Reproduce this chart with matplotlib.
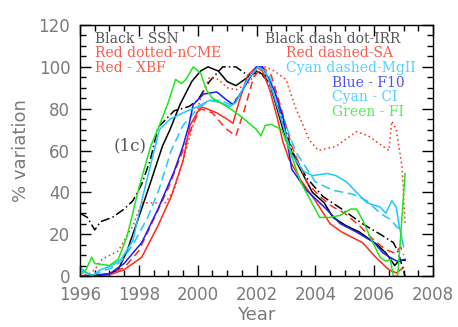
import matplotlib
matplotlib.use("Agg")
import matplotlib.pyplot as plt
from matplotlib.ticker import MultipleLocator

# data (year, % variation)
ssn_x = [1996.0, 1996.5, 1997.0, 1997.3, 1997.6, 1997.97, 1998.38, 1998.8, 1999.06, 1999.4, 1999.8, 2000.1, 2000.35, 2000.7, 2001.0, 2001.3, 2001.6, 2002.0, 2002.4, 2002.7, 2003.0, 2003.34, 2003.9, 2004.3, 2004.6, 2005.05, 2005.5, 2006.1, 2006.4, 2006.7, 2006.85, 2007.05]
ssn_y = [0, 0.5, 1, 3, 12, 27, 44, 62, 70, 82, 93, 98, 100, 98, 93, 91, 94, 98, 95, 80, 65, 55, 40, 35, 28, 24, 21, 15, 11, 5, 7.5, 7.5]

irr_x = [1996.0, 1996.25, 1996.5, 1996.7, 1997.1, 1997.5, 1997.8, 1998.1, 1998.4, 1998.65, 1999.2, 1999.7, 2000.0, 2000.4, 2000.85, 2001.3, 2001.7, 2002.1, 2002.4, 2002.8, 2003.2, 2003.7, 2004.26, 2004.9, 2005.6, 2006.2, 2006.65, 2006.8, 2007.05]
irr_y = [30, 28, 22, 26, 28, 32, 36, 44, 56, 71, 79, 81, 84, 93, 100, 100, 96, 97.5, 93, 78, 60, 47, 38, 32, 25, 20, 16, 12, 0]

ncme_x = [1996.0, 1996.3, 1996.5, 1996.75, 1997.3, 1997.8, 1998.1, 1998.5, 1998.9, 1999.2, 1999.5, 1999.8, 2000.1, 2000.4, 2000.7, 2001.0, 2001.3, 2001.7, 2002.0, 2002.3, 2002.6, 2003.0, 2003.34, 2003.8, 2004.1, 2004.7, 2005.4, 2005.8, 2006.5, 2006.6, 2006.75, 2006.95, 2007.05]
ncme_y = [0, 1, 3, 8, 12, 24, 35, 35, 35, 41, 55, 70, 85, 95, 94, 90, 89, 92, 97, 100, 98, 94, 80, 65, 60, 62, 69, 67, 60, 74, 70, 52, 25]

xbf_x = [1996.0, 1996.5, 1997.0, 1997.5, 1998.1, 1998.65, 1999.1, 1999.5, 1999.74, 2000.1, 2000.3, 2000.65, 2001.0, 2001.2, 2001.4, 2001.7, 2002.0, 2002.2, 2002.45, 2002.7, 2002.9, 2003.1, 2003.5, 2004.0, 2004.5, 2004.9, 2005.6, 2006.05, 2006.5, 2006.75, 2007.0]
xbf_y = [0, 0, 0.5, 3, 9, 24, 38, 55, 72, 81, 80, 78, 75, 73, 83, 96, 100, 98, 89, 76, 64, 56, 46, 36, 25, 21, 16, 9, 3, 1.5, 4]

sa_x = [1996.0, 1996.5, 1997.0, 1997.5, 1998.0, 1998.6, 1999.0, 1999.5, 1999.85, 2000.1, 2000.5, 2000.8, 2001.0, 2001.3, 2001.6, 2001.9, 2002.2, 2002.5, 2002.8, 2003.2, 2003.7, 2004.15, 2004.6, 2005.0, 2005.5, 2006.0, 2006.4, 2006.7, 2006.9, 2007.0]
sa_y = [0, 0, 1, 4, 12, 30, 42, 60, 73, 80, 78, 73, 70, 67, 80, 95, 100, 96, 82, 62, 45, 38, 33, 30, 24, 17, 12.5, 11, 14, 10]

mgii_x = [1996.0, 1996.4, 1996.7, 1997.1, 1997.4, 1997.8, 1998.3, 1998.7, 1999.1, 1999.5, 2000.0, 2000.4, 2000.75, 2001.1, 2001.4, 2001.8, 2002.1, 2002.4, 2002.7, 2003.0, 2003.35, 2004.0, 2004.6, 2005.3, 2005.75, 2006.2, 2006.55, 2006.8, 2007.0]
mgii_y = [3, 0, 2, 4, 7, 15, 28, 42, 60, 72, 80, 84, 84, 82, 86, 96, 100, 97, 85, 72, 59, 45, 41, 39, 36, 30, 27, 23, 23]

f10_x = [1996.0, 1996.5, 1997.0, 1997.5, 1998.1, 1998.65, 1999.2, 1999.5, 1999.7, 1999.85, 2000.2, 2000.65, 2001.0, 2001.2, 2001.4, 2001.7, 2002.0, 2002.2, 2002.6, 2002.9, 2003.2, 2003.7, 2004.3, 2004.85, 2005.4, 2006.0, 2006.3, 2006.65, 2006.8, 2007.05]
f10_y = [0, 0, 1, 6, 16, 32, 50, 62, 72, 82, 87, 88, 84, 82, 86, 93, 100, 100, 89, 76, 51, 41, 33, 25, 21, 16, 11, 8, 7, 8]

ci_x = [1996.0, 1996.4, 1996.7, 1997.1, 1997.4, 1997.8, 1998.1, 1998.38, 1998.7, 1999.06, 1999.5, 2000.0, 2000.4, 2000.75, 2001.1, 2001.3, 2001.7, 2002.05, 2002.3, 2002.6, 2002.9, 2003.2, 2003.6, 2003.9, 2004.4, 2004.7, 2005.06, 2005.4, 2005.75, 2006.2, 2006.4, 2006.6, 2006.75, 2006.85, 2007.0]
ci_y = [4, 0, 3, 5, 8, 17, 36, 52, 70, 75, 78, 81, 84, 83, 81, 83, 94, 100, 98, 86, 72, 58, 50, 48, 49, 48, 45, 40, 35, 33, 30, 36, 33, 24, 14]

fi_x = [1996.0, 1996.2, 1996.4, 1996.5, 1997.0, 1997.3, 1997.6, 1998.0, 1998.4, 1998.7, 1999.0, 1999.25, 1999.45, 1999.6, 1999.85, 2000.1, 2000.3, 2000.5, 2001.0, 2001.5, 2002.0, 2002.15, 2002.3, 2002.5, 2002.85, 2003.0, 2003.35, 2003.5, 2004.15, 2004.5, 2004.85, 2005.2, 2005.4, 2005.6, 2005.85, 2006.2, 2006.4, 2006.55, 2006.65, 2006.8, 2006.9, 2007.05]
fi_y = [0, 3, 9, 6, 5, 8, 19, 42, 62, 72, 83, 94, 92, 94, 100, 97, 89, 85, 81, 76, 70, 67, 72, 72.5, 70, 65, 51, 45, 28, 28, 29, 32, 32, 27, 19, 9, 7, 8, 0, 0, 19, 49]

red = "#ff2a1a"
cyan = "#1ec8ff"
blue = "#1a1aff"
green = "#1ee61e"

plt.rcParams["font.family"] = "DejaVu Sans"

fig = plt.figure(figsize=(4.58, 3.27), dpi=100)
ax = fig.add_axes([0.1747, 0.156, 0.7707, 0.7675])

ax.plot(irr_x, irr_y, color="black", lw=1.1, linestyle=(0, (6, 2, 1, 2)))
ax.plot(ssn_x, ssn_y, color="black", lw=1.1)
ax.plot(ncme_x, ncme_y, color=red, lw=1.1, linestyle=(0, (1, 2)))
ax.plot(xbf_x, xbf_y, color=red, lw=1.1)
ax.plot(sa_x, sa_y, color=red, lw=1.1, linestyle=(0, (5, 3)))
ax.plot(mgii_x, mgii_y, color=cyan, lw=1.1, linestyle=(0, (6, 3)))
ax.plot(f10_x, f10_y, color=blue, lw=1.1)
ax.plot(ci_x, ci_y, color=cyan, lw=1.1)
ax.plot(fi_x, fi_y, color=green, lw=1.1)

ax.set_xlim(1996, 2008)
ax.set_ylim(0, 120)
ax.xaxis.set_major_locator(MultipleLocator(2))
ax.xaxis.set_minor_locator(MultipleLocator(0.5))
ax.yaxis.set_major_locator(MultipleLocator(20))
ax.yaxis.set_minor_locator(MultipleLocator(5))
ax.tick_params(which="both", direction="in", top=True, right=True, width=1.0,
               labelsize=12, labelcolor="#7a7a7a", pad=7)
ax.tick_params(which="major", length=8)
ax.tick_params(which="minor", length=4)
for s in ax.spines.values():
    s.set_linewidth(1.0)

ax.set_xlabel("Year", fontsize=13, color="#7a7a7a", labelpad=2)
ax.set_ylabel("% variation", fontsize=13, color="#7a7a7a", labelpad=6)

tf = dict(fontsize=10, family="DejaVu Serif", va="baseline")
ax.text(1996.5, 111.5, "Black - SSN", color="#555555", **tf)
ax.text(1996.5, 104.5, "Red dotted-nCME", color="#ff5a4a", **tf)
ax.text(1996.5, 97.5, "Red - XBF", color="#ff5a4a", **tf)
ax.text(2002.3, 111.5, "Black dash dot-IRR", color="#555555", **tf)
ax.text(2003.0, 104.5, "Red dashed-SA", color="#ff5a4a", **tf)
ax.text(2003.0, 97.5, "Cyan dashed-MgII", color="#55d0ff", **tf)
ax.text(2004.55, 90.5, "Blue - F10", color="#5050ff", **tf)
ax.text(2004.55, 83.5, "Cyan - CI", color="#55d0ff", **tf)
ax.text(2004.55, 76.5, "Green - FI", color="#55ee55", **tf)
ax.text(1997.7, 62, "(1c)", color="#555555", fontsize=12, family="DejaVu Serif",
        ha="center", va="center")

fig.savefig("out.png", dpi=100)
